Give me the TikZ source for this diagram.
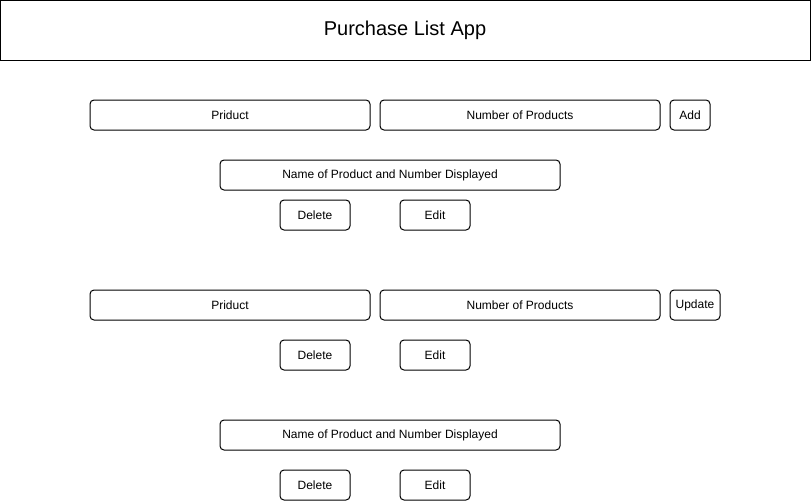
\documentclass[tikz,border=0pt]{standalone}
\usepackage{fontspec}
\setmainfont{Liberation Sans}
\usepackage{xcolor}

\begin{document}
\begin{tikzpicture}[x=1pt,y=-1pt,line width=1pt,
		field/.style={draw,rounded corners=4pt,minimum height=30pt,inner sep=0pt,font=\fontsize{12}{14}\selectfont},
		btn/.style={field,minimum width=70pt}]
		\useasboundingbox(0,0) rectangle (811,501);
		\node[draw,minimum width=810pt,minimum height=60pt,inner sep=0pt,font=\fontsize{20}{24}\selectfont](title) at (405,30){Purchase List App};
		% add row
		\node[field,minimum width=280pt](prod) at (230,115){Priduct};
		\node[field,minimum width=280pt](num) at (520,115){Number of Products};
		\node[field,minimum width=40pt](add) at (690,115){Add};
		\node[field,minimum width=340pt](disp) at (390,175){Name of Product and Number Displayed};
		\node[btn](del) at (315,215){Delete};
		\node[btn](edit) at (435,215){Edit};
		% update row
		\node[field,minimum width=280pt](produ) at (230,305){Priduct};
		\node[field,minimum width=280pt](numu) at (520,305){Number of Products};
		\node[field,minimum width=50pt](upd) at (695,305){Update};
		\node[btn](delu) at (315,355){Delete};
		\node[btn](editu) at (435,355){Edit};
		% list
		\node[field,minimum width=340pt](displ) at (390,435){Name of Product and Number Displayed};
		\node[btn](dell) at (315,485){Delete};
		\node[btn](editl) at (435,485){Edit};
		\end{tikzpicture}
\end{document}
